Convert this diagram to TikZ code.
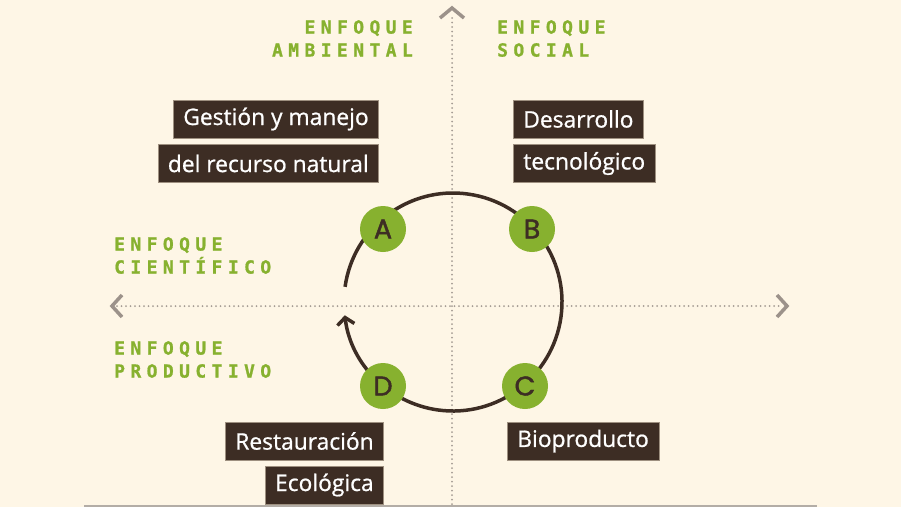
\documentclass[tikz,border=0pt]{standalone}
\usepackage{fontspec}
\setmainfont[FakeBold=0.8]{Open Sans}
\newfontfamily\enfoquefont[LetterSpace=30, FakeBold=1]{DejaVu Sans Mono}
\newfontfamily\stagefont[FakeBold=1.6]{Poppins}
\usetikzlibrary{arrows.meta}

\definecolor{cream}{HTML}{FEF6E6}
\definecolor{axisgray}{HTML}{9C928A}
\definecolor{dotgray}{HTML}{A59C94}
\definecolor{rulegray}{HTML}{B3ADA6}
\definecolor{leafgreen}{HTML}{87B12F}
\definecolor{barkbrown}{HTML}{3D2D24}
\definecolor{boxedge}{HTML}{9E9080}

\tikzset{
	axis/.style = {draw=dotgray, line width=2pt, line cap=round, dash pattern=on 0pt off 4.5pt},
	chevron/.style = {draw=axisgray, line width=3.5pt, line join=miter},
	enfoque/.style = {text=leafgreen, inner sep=0pt, font=\enfoquefont\bfseries\fontsize{18}{23}\selectfont},
	tag/.style = {fill=barkbrown, draw=boxedge, line width=0.6pt, text=white, minimum height=38pt, inner xsep=10pt, inner ysep=0pt, font=\fontsize{22.8}{22.8}\selectfont},
	stage/.style = {circle, fill=leafgreen, minimum size=46pt, inner sep=0pt, text=barkbrown, font=\stagefont\fontsize{27}{27}\selectfont}
}

\begin{document}
\begin{tikzpicture}[x=1pt, y=-1pt]

	% Definition
	
	\def\r{109}		% Cycle radius
	
	% Canvas
	
	\fill [cream] (0, 0) rectangle (901, 507);
	\useasboundingbox (0, 0) rectangle (901, 507);
	
	% Axes w/ chevrons
	
	\coordinate (top) at (452, 18);
	\coordinate (bottom) at (452, 507);
	\coordinate (left) at (117, 306);
	\coordinate (right) at (782, 306);
	\coordinate (center) at (453, 302);
	
	\draw [axis] (top) -- (bottom);
	\draw [axis] (left) -- (right);
	\draw [chevron] (top) ++(-12, 0) -- ++(12, -10) -- ++(12, 10);
	\draw [chevron] (left) ++(5, -11) -- ++(-10, 11) -- ++(10, 11);
	\draw [chevron] (right) ++(-5, -11) -- ++(10, 11) -- ++(-10, 11);
	\draw [rulegray, line width=2pt] (84, 506) -- (817, 506);
	
	% Quadrant labels
	
	\node [enfoque, anchor=north east, align=right] (ambiental) at (413, 20) {ENFOQUE\\AMBIENTAL};
	\node [enfoque, anchor=north west, align=left] (social) at (497, 20) {ENFOQUE\\SOCIAL};
	\node [enfoque, anchor=north west, align=left] (cientifico) at (114, 237) {ENFOQUE\\CIENTÍFICO};
	\node [enfoque, anchor=north west, align=left] (productivo) at (114, 341) {ENFOQUE\\PRODUCTIVO};
	
	% Cycle
	
	\draw [barkbrown, line width=3.5pt, -{Straight Barb[length=7pt, width=17pt]}] (center) ++(-172:\r) arc [start angle=-172, end angle=173, radius=\r];
	
	\node [stage] (a) at (383, 229) {A};
	\node [stage] (b) at (532, 229) {B};
	\node [stage] (c) at (525, 386) {C};
	\node [stage] (d) at (383, 386) {D};
	
	% Boxes
	
	\node [tag, anchor=east] (gestion) at (379, 119) {Gestión y manejo};
	\node [tag, anchor=east] (recurso) at (379, 163.5) {del recurso natural};
	\node [tag, anchor=west] (desarrollo) at (513, 119) {Desarrollo};
	\node [tag, anchor=west] (tecnologico) at (513, 163.5) {tecnológico};
	\node [tag, anchor=east] (restauracion) at (384, 441) {Restauración};
	\node [tag, anchor=east] (ecologica) at (384, 485) {Ecológica};
	\node [tag, anchor=west] (bioproducto) at (507, 441) {Bioproducto};

\end{tikzpicture}
\end{document}
